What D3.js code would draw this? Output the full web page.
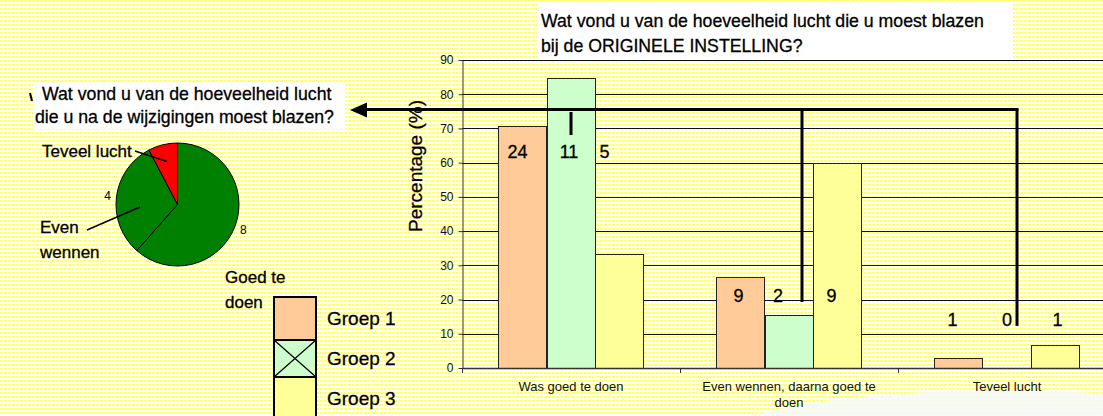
<!DOCTYPE html>
<html>
<head>
<meta charset="utf-8">
<script src="https://cdn.jsdelivr.net/npm/d3@7"></script>
<style>
body { margin: 0; background: #fff; }
svg { display: block; font-family: "Liberation Sans", Arial, sans-serif; }
.heavy { stroke: #000; stroke-width: 0.3px; }
</style>
</head>
<body>
<script>
// bar chart data (percentages per group, counts shown as labels)
var categories = ["Was goed te doen", "Even wennen, daarna goed te doen", "Teveel lucht"];
var groups = ["Groep 1", "Groep 2", "Groep 3"];
var groep1 = [70.6, 26.5, 2.9];
var groep2 = [84.6, 15.4, 0];
var groep3 = [33.3, 60.0, 6.7];
var counts1 = [24, 9, 1];
var counts2 = [11, 2, 0];
var counts3 = [5, 9, 1];
var yTicks = [0, 10, 20, 30, 40, 50, 60, 70, 80, 90];

// pie data
var pieLabels = ["Goed te doen", "Even wennen", "Teveel lucht"];
var pieValues = [8, 4, 1];

var groupColors = ["#ffcc99", "#ccffcc", "#ffff99"];
var pieColors = ["#008000", "#008000", "#ff0000"];

var width = 1103,
    height = 416;

var svg = d3.select("body").append("svg")
    .attr("width", width)
    .attr("height", height);

/*
background dotted pattern
*/
var defs = svg.append("defs");
var pat = defs.append("pattern")
    .attr("id", "dots")
    .attr("width", 4)
    .attr("height", 4)
    .attr("patternUnits", "userSpaceOnUse");
pat.append("rect").attr("width", 4).attr("height", 4).attr("fill", "#fff");
pat.append("rect").attr("x", 0).attr("y", 0)
    .attr("width", 3).attr("height", 2).attr("fill", "#ffff7a");

svg.append("rect")
    .attr("width", width)
    .attr("height", height)
    .attr("fill", "url(#dots)");

// faint white blob, bottom right
svg.append("ellipse")
    .attr("cx", 1000).attr("cy", 480)
    .attr("rx", 360).attr("ry", 90)
    .attr("fill", "#f6f9fb")
    .attr("opacity", 0.85);

/*
bar chart
*/
var x0 = d3.scaleBand()
    .domain(categories)
    .range([462, 1116]);

var x1 = d3.scaleBand()
    .domain(groups)
    .range([0, x0.bandwidth()])
    .paddingOuter(0.75);

var y = d3.scaleLinear()
    .domain([0, 90])
    .range([368, 60]);

// title box
svg.append("rect")
    .attr("x", 537).attr("y", 4)
    .attr("width", 476).attr("height", 54)
    .attr("fill", "#fff");

var title = svg.append("text")
    .attr("class", "heavy")
    .attr("font-size", "17.7px")
    .attr("fill", "#000");
title.append("tspan").attr("x", 541).attr("y", 27)
    .text("Wat vond u van de hoeveelheid lucht die u moest blazen");
title.append("tspan").attr("x", 541).attr("y", 52)
    .text("bij de ORIGINELE INSTELLING?");

// gridlines
svg.append("g")
    .selectAll("line")
    .data(yTicks)
    .enter().append("line")
    .attr("x1", 462)
    .attr("x2", 1116)
    .attr("y1", function(d) { return Math.round(y(d)) + 0.5; })
    .attr("y2", function(d) { return Math.round(y(d)) + 0.5; })
    .attr("stroke", "#111")
    .attr("stroke-width", 1);

var series = [groep1, groep2, groep3];
var seriesCounts = [counts1, counts2, counts3];

var barData = [];
categories.forEach(function(c, ci) {
    groups.forEach(function(g, gi) {
        barData.push({cat: c, ci: ci, group: g, gi: gi, value: series[gi][ci], count: seriesCounts[gi][ci]});
    });
});

svg.append("g")
    .selectAll("rect")
    .data(barData.filter(function(d) { return d.value > 0; }))
    .enter().append("rect")
    .attr("x", function(d) { return Math.round(x0(d.cat) + x1(d.group)) + 0.5; })
    .attr("y", function(d) { return Math.round(y(d.value)) + 0.5; })
    .attr("width", function(d) { return Math.round(x1.bandwidth()); })
    .attr("height", function(d) { return Math.round(y(0)) - Math.round(y(d.value)); })
    .attr("fill", function(d) { return groupColors[d.gi]; })
    .attr("stroke", "#222")
    .attr("stroke-width", 1);

// y axis
var yAxis = svg.append("g")
    .attr("transform", "translate(462.5,0)")
    .call(d3.axisLeft(y).tickValues(yTicks).tickSize(4).tickSizeOuter(0).tickPadding(5));
yAxis.select(".domain").attr("stroke", "#333");
yAxis.selectAll(".tick line").attr("stroke", "#333");
yAxis.selectAll(".tick text")
    .attr("font-family", "'Liberation Sans', Arial, sans-serif")
    .attr("font-size", "12px")
    .attr("fill", "#111");

svg.append("text")
    .attr("class", "heavy")
    .attr("transform", "translate(422,166) rotate(-90)")
    .attr("text-anchor", "middle")
    .attr("font-size", "19px")
    .text("Percentage (%)");

// x axis line and ticks
svg.append("line")
    .attr("x1", 462).attr("x2", 1116)
    .attr("y1", Math.round(y(0)) + 0.5).attr("y2", Math.round(y(0)) + 0.5)
    .attr("stroke", "#333").attr("stroke-width", 1.5);

svg.append("g")
    .selectAll("line")
    .data(categories)
    .enter().append("line")
    .attr("x1", function(d) { return Math.round(x0(d)) + 0.5; })
    .attr("x2", function(d) { return Math.round(x0(d)) + 0.5; })
    .attr("y1", y(0))
    .attr("y2", y(0) + 5)
    .attr("stroke", "#333");

// category labels (wrapped)
var catLabels = svg.append("g")
    .selectAll("text")
    .data(categories)
    .enter().append("text")
    .attr("x", function(d) { return x0(d) + x0.bandwidth() / 2; })
    .attr("y", 391)
    .attr("text-anchor", "middle")
    .attr("font-size", "13px")
    .attr("fill", "#111");

catLabels.each(function(d) {
    var t = d3.select(this);
    var words = d.split(" "), line = [];
    var maxW = x0.bandwidth() - 20;
    var tspan = t.append("tspan").attr("x", x0(d) + x0.bandwidth() / 2).attr("dy", 0);
    words.forEach(function(w) {
        line.push(w);
        tspan.text(line.join(" "));
        if (tspan.node().getComputedTextLength() > maxW && line.length > 1) {
            line.pop();
            tspan.text(line.join(" "));
            line = [w];
            tspan = t.append("tspan").attr("x", x0(d) + x0.bandwidth() / 2).attr("dy", 16).text(w);
        }
    });
});

// count labels, placed at a fixed level per category
var labelLevel = [61.4, 19.3, 12.3];
var labelShift = [[-5, -2, -15], [-2, -11, -6], [-6, 0, 2]];

svg.append("g")
    .selectAll("text")
    .data(barData)
    .enter().append("text")
    .attr("class", "heavy")
    .attr("x", function(d) { return x0(d.cat) + x1(d.group) + x1.bandwidth() / 2 + labelShift[d.ci][d.gi]; })
    .attr("y", function(d) { return y(labelLevel[d.ci]); })
    .attr("text-anchor", "middle")
    .attr("font-size", "18px")
    .text(function(d) { return d.count; });

/*
arrow from the bar chart to the pie chart
*/
var arrowY = 109.5;
var g2 = barData.filter(function(d) { return d.group == "Groep 2"; });
var arrowDx = [0, 13, 10];
var arrowX = g2.map(function(d) { return x0(d.cat) + x1(d.group) + x1.bandwidth() / 2 + arrowDx[d.ci]; });

svg.append("line")
    .attr("x1", 362).attr("x2", arrowX[2] + 1.5)
    .attr("y1", arrowY).attr("y2", arrowY)
    .attr("stroke", "#000").attr("stroke-width", 3);

svg.append("line")
    .attr("x1", arrowX[0]).attr("x2", arrowX[0])
    .attr("y1", 112).attr("y2", 135)
    .attr("stroke", "#000").attr("stroke-width", 3);

[1, 2].forEach(function(i) {
    svg.append("line")
        .attr("x1", arrowX[i]).attr("x2", arrowX[i])
        .attr("y1", arrowY).attr("y2", y(labelLevel[i]))
        .attr("stroke", "#000").attr("stroke-width", 3);
});

/*
pie chart
*/
svg.append("rect")
    .attr("x", 33).attr("y", 84)
    .attr("width", 312).attr("height", 45)
    .attr("fill", "#fff");

svg.append("path")
    .attr("d", "M350,110 L367,102.5 L367,117.5 Z")
    .attr("fill", "#000");

svg.append("line")
    .attr("x1", 30).attr("y1", 93).attr("x2", 32).attr("y2", 101)
    .attr("stroke", "#000").attr("stroke-width", 2);

var pieTitle = svg.append("text")
    .attr("class", "heavy")
    .attr("font-size", "17.7px")
    .attr("fill", "#000");
pieTitle.append("tspan").attr("x", 42).attr("y", 100)
    .text("Wat vond u van de hoeveelheid lucht");
pieTitle.append("tspan").attr("x", 35).attr("y", 123)
    .text("die u na de wijzigingen moest blazen?");

var cx = 177.5, cy = 204.5, r = 61.5;

var pie = d3.pie().sort(null)(pieValues);
var arc = d3.arc().innerRadius(0).outerRadius(r);
var inArc = d3.arc().innerRadius(r * 0.72).outerRadius(r * 0.72);
var outArc = d3.arc().innerRadius(r + 9).outerRadius(r + 9);

var pieG = svg.append("g")
    .attr("transform", "translate(" + cx + "," + cy + ")");

pieG.selectAll("path")
    .data(pie)
    .enter().append("path")
    .attr("d", arc)
    .attr("fill", function(d, i) { return pieColors[i]; })
    .attr("stroke", "#000")
    .attr("stroke-width", 1);

// numbers next to the pie
pieG.selectAll("text.num")
    .data(pie.slice(0, 2))
    .enter().append("text")
    .attr("class", "num")
    .attr("transform", function(d) { return "translate(" + outArc.centroid(d) + ")"; })
    .attr("dy", "0.35em")
    .attr("text-anchor", "middle")
    .attr("font-size", "12px")
    .text(function(d) { return d.value; });

// leader lines and labels
var evenStart = [140 - cx, 207 - cy];
var leaderStart = [null, evenStart, inArc.centroid(pie[2])];
var leaderEnd = [null, [87 - cx, 230 - cy], [135 - cx, 151 - cy]];
[1, 2].forEach(function(i) {
    pieG.append("line")
        .attr("x1", leaderStart[i][0]).attr("y1", leaderStart[i][1])
        .attr("x2", leaderEnd[i][0]).attr("y2", leaderEnd[i][1])
        .attr("stroke", "#000").attr("stroke-width", 1.5);
});

svg.append("text")
    .attr("class", "heavy")
    .attr("x", 42).attr("y", 157)
    .attr("font-size", "17px")
    .text(pieLabels[2]);

var evenLbl = svg.append("text").attr("class", "heavy").attr("font-size", "17px");
evenLbl.append("tspan").attr("x", 40).attr("y", 233).text(pieLabels[1].split(" ")[0]);
evenLbl.append("tspan").attr("x", 40).attr("y", 258).text(pieLabels[1].split(" ")[1]);

var goedLbl = svg.append("text").attr("class", "heavy").attr("font-size", "17px");
goedLbl.append("tspan").attr("x", 225).attr("y", 283).text("Goed te");
goedLbl.append("tspan").attr("x", 225).attr("y", 308).text("doen");

/*
legend
*/
var legendTop = [297, 340, 377];
var legendH = [43, 37, 42];
var legX = 274, legW = 42;

var leg = svg.append("g");
groups.forEach(function(g, i) {
    leg.append("rect")
        .attr("x", legX).attr("y", legendTop[i])
        .attr("width", legW).attr("height", legendH[i])
        .attr("fill", groupColors[i])
        .attr("stroke", "#000")
        .attr("stroke-width", 2);
    if (i == 1) {
        leg.append("path")
            .attr("d", "M" + legX + "," + legendTop[i] + "L" + (legX + legW) + "," + (legendTop[i] + legendH[i]) +
                "M" + (legX + legW) + "," + legendTop[i] + "L" + legX + "," + (legendTop[i] + legendH[i]))
            .attr("stroke", "#000")
            .attr("stroke-width", 1.2);
    }
    leg.append("text")
        .attr("class", "heavy")
        .attr("x", 327)
        .attr("y", legendTop[i] + legendH[i] / 2)
        .attr("dy", "0.35em")
        .attr("font-size", "19px")
        .text(g);
});
</script>
</body>
</html>
